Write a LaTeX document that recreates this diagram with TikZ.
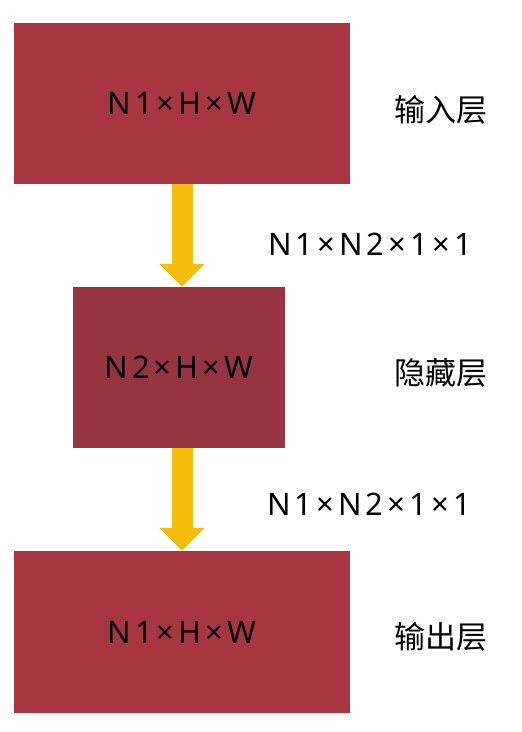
\documentclass[tikz,border=0pt]{standalone}
\usepackage{fontspec}
\setmainfont{Noto Sans}[LetterSpace=13]
\newfontfamily\cjk{Noto Sans CJK SC}
\usetikzlibrary{arrows.meta, positioning}
\definecolor{layerred}{HTML}{A83641}
\definecolor{hiddenred}{HTML}{963540}
\definecolor{flowyellow}{HTML}{F5BC0A}
\tikzset{
  layer/.style={rectangle, fill=layerred, draw=none, inner sep=0pt, font=\fontsize{31}{34}\selectfont},
  flow/.style={draw=flowyellow, line width=21pt, -{Triangle[width=44pt, length=23pt]}},
  tag/.style={draw=none, inner sep=0pt, font=\fontsize{31}{34}\selectfont},
  layername/.style={draw=none, inner sep=0pt, font=\cjk\fontsize{31}{34}\selectfont}
}
\begin{document}
\begin{tikzpicture}[x=1pt, y=1pt]
\useasboundingbox (0,0) rectangle (522,-732);
% layers
\node [layer, minimum width=336pt, minimum height=161pt] (in) at (182,-103.5) {N1×H×W};
\node [layer, fill=hiddenred, minimum width=212pt, minimum height=161pt] (hid) at (179,-367.5) {N2×H×W};
\node [layer, minimum width=336pt, minimum height=162pt] (out) at (182,-632) {N1×H×W};
% flows
\draw [flow] (in.south) -- (in.south |- hid.north);
\draw [flow] (in.south |- hid.south) -- (in.south |- out.north);
% side texts
\node [layername] (lin) at (441,-110) {输入层};
\node [layername] (lhid) at (441,-373) {隐藏层};
\node [layername] (lout) at (441,-637) {输出层};
\node [tag] (w1) at (370,-244) {N1×N2×1×1};
\node [tag] (w2) at (369,-504) {N1×N2×1×1};
\end{tikzpicture}
\end{document}
